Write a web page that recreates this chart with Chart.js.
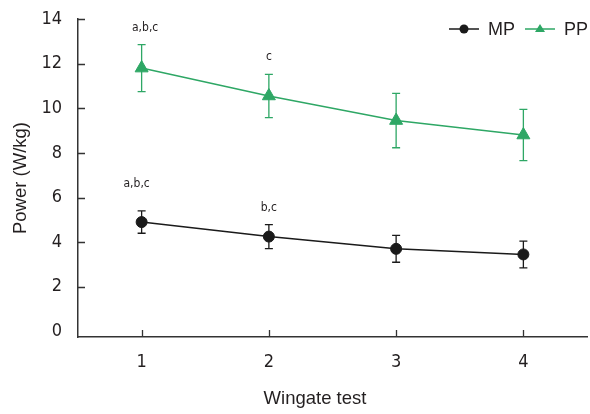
<!DOCTYPE html>
<html>
<head>
<meta charset="utf-8">
<title>Wingate test power</title>
<script src="https://cdn.jsdelivr.net/npm/chart.js@4.4.0/dist/chart.umd.min.js"></script>
<style>
    body { margin: 0; background: #fff; }
    #wrap { width: 590px; height: 414px; }
</style>
</head>
<body>
<div id="wrap"><canvas id="powerChart"></canvas></div>
<script>
// Wingate test bouts
const tests = ['1', '2', '3', '4'];

// Mean power (W/kg) and SD
const mpValues = [4.9, 4.25, 3.7, 3.45];
const mpErrors = [0.5, 0.54, 0.6, 0.6];

// Peak power (W/kg) and SD
const ppValues = [11.8, 10.55, 9.45, 8.8];
const ppErrors = [1.05, 0.97, 1.22, 1.15];

// Significance letters above each point
const mpMarks = ['a,b,c', 'b,c', '', ''];
const ppMarks = ['a,b,c', 'c', '', ''];

// Y axis tick values
const yTicks = [0, 2, 4, 6, 8, 10, 12, 14];

const GREEN = '#2ea765';
const BLACK = '#1a1a1a';
const AXIS = '#333333';
const TEXT = '#231f20';
const NARROW = "'Liberation Sans Narrow', 'DejaVu Sans Condensed', 'Roboto', sans-serif";
const REGULAR = "'Liberation Sans', Arial, sans-serif";

// Error bars, inner tick marks, letters, legend and x title
const decorations = {
    id: 'decorations',
    beforeDatasetsDraw(chart) {
        const ctx = chart.ctx;
        const y = chart.scales.y;
        chart.data.datasets.forEach((ds, i) => {
            const meta = chart.getDatasetMeta(i);
            ctx.save();
            ctx.strokeStyle = ds.borderColor;
            ctx.lineWidth = 1.3;
            meta.data.forEach((pt, j) => {
                const top = y.getPixelForValue(ds.data[j] + ds.errors[j]);
                const bottom = y.getPixelForValue(ds.data[j] - ds.errors[j]);
                ctx.beginPath();
                ctx.moveTo(pt.x, top);
                ctx.lineTo(pt.x, bottom);
                ctx.moveTo(pt.x - 4, top);
                ctx.lineTo(pt.x + 4, top);
                ctx.moveTo(pt.x - 4, bottom);
                ctx.lineTo(pt.x + 4, bottom);
                ctx.stroke();
            });
            ctx.restore();
        });
    },
    afterDraw(chart, args, opts) {
        const ctx = chart.ctx;
        const x = chart.scales.x;
        const y = chart.scales.y;
        const area = chart.chartArea;
        ctx.save();

        // tick marks pointing into the plot
        ctx.strokeStyle = AXIS;
        ctx.lineWidth = 1.3;
        ctx.beginPath();
        x.ticks.forEach((t, i) => {
            const px = Math.round(x.getPixelForTick(i)) + 0.5;
            ctx.moveTo(px, area.bottom);
            ctx.lineTo(px, area.bottom - 7);
        });
        yTicks.filter(v => v > 0).forEach(v => {
            const py = Math.round(y.getPixelForValue(v)) + 0.5;
            ctx.moveTo(area.left, py);
            ctx.lineTo(area.left + 7, py);
        });
        ctx.stroke();

        // significance letters
        ctx.fillStyle = TEXT;
        ctx.font = '12px ' + NARROW;
        ctx.textAlign = 'center';
        ctx.textBaseline = 'middle';
        chart.data.datasets.forEach((ds, i) => {
            const meta = chart.getDatasetMeta(i);
            meta.data.forEach((pt, j) => {
                if (!ds.marks[j]) return;
                const shift = (opts.shifts[i] && opts.shifts[i][j]) || [0, 0];
                const top = y.getPixelForValue(ds.data[j] + ds.errors[j]);
                ctx.fillText(ds.marks[j], pt.x + shift[0], top - 17 + shift[1]);
            });
        });

        // legend: line + marker + label, right aligned
        ctx.font = '18px ' + REGULAR;
        ctx.textAlign = 'left';
        let right = chart.width - 2;
        const ly = 29;
        chart.data.datasets.slice().reverse().forEach(ds => {
            const tw = ctx.measureText(ds.label).width;
            const textX = right - tw;
            const lineEnd = textX - 9;
            const lineStart = lineEnd - 30;
            const mx = (lineStart + lineEnd) / 2;
            ctx.strokeStyle = ds.borderColor;
            ctx.lineWidth = 1.5;
            ctx.beginPath();
            ctx.moveTo(lineStart, ly);
            ctx.lineTo(lineEnd, ly);
            ctx.stroke();
            ctx.fillStyle = ds.borderColor;
            ctx.beginPath();
            if (ds.pointStyle === 'triangle') {
                ctx.moveTo(mx, ly - 5);
                ctx.lineTo(mx + 5, ly + 3);
                ctx.lineTo(mx - 5, ly + 3);
                ctx.closePath();
            } else {
                ctx.arc(mx, ly, 4.5, 0, Math.PI * 2);
            }
            ctx.fill();
            ctx.fillStyle = TEXT;
            ctx.fillText(ds.label, textX, ly + 1);
            right = lineStart - 10;
        });

        // x axis title
        ctx.font = '18.5px ' + REGULAR;
        ctx.textAlign = 'center';
        ctx.fillStyle = TEXT;
        ctx.fillText(opts.xTitle, (chart.width + 40) / 2, 399);
        ctx.restore();
    }
};

const ctx = document.getElementById('powerChart').getContext('2d');

const powerChart = new Chart(ctx, {
    type: 'line',
    data: {
        labels: tests,
        datasets: [{
            label: 'MP',
            data: mpValues,
            errors: mpErrors,
            marks: mpMarks,
            borderColor: BLACK,
            backgroundColor: BLACK,
            borderWidth: 1.5,
            pointStyle: 'circle',
            pointRadius: 5.5,
            pointBorderWidth: 1,
            tension: 0
        }, {
            label: 'PP',
            data: ppValues,
            errors: ppErrors,
            marks: ppMarks,
            borderColor: GREEN,
            backgroundColor: GREEN,
            borderWidth: 1.5,
            pointStyle: 'triangle',
            pointRadius: 7.5,
            pointBorderWidth: 1,
            tension: 0
        }]
    },
    options: {
        responsive: true,
        maintainAspectRatio: false,
        animation: false,
        layout: {
            autoPadding: false,
            padding: { top: 19, right: 3, left: 0, bottom: 0 }
        },
        scales: {
            x: {
                type: 'category',
                offset: true,
                grid: { display: true, drawOnChartArea: false, drawTicks: false },
                border: { display: true, color: AXIS, width: 1.5 },
                ticks: {
                    color: TEXT,
                    padding: 15,
                    font: { size: 18, family: NARROW }
                },
                afterFit: scale => {
                    scale.height = 77;
                    scale.paddingLeft = 0;
                    scale.paddingRight = 0;
                }
            },
            y: {
                min: -0.25,
                max: 14,
                grid: { display: true, drawOnChartArea: false, drawTicks: false },
                border: { display: true, color: AXIS, width: 1.5 },
                ticks: {
                    color: TEXT,
                    padding: 16,
                    font: { size: 18, family: NARROW }
                },
                afterBuildTicks: scale => {
                    scale.ticks = yTicks.map(v => ({ value: v }));
                },
                title: {
                    display: true,
                    text: 'Power (W/kg)',
                    color: TEXT,
                    font: { size: 18.5, family: REGULAR },
                    padding: { top: 10, bottom: 0 }
                },
                afterFit: scale => {
                    scale.width = 78;
                    scale.paddingTop = 0;
                    scale.paddingBottom = 0;
                }
            }
        },
        plugins: {
            legend: { display: false },
            tooltip: { enabled: false },
            decorations: {
                xTitle: 'Wingate test',
                shifts: [[[-5, -10]], [[3.5, 0]]]
            }
        }
    },
    plugins: [decorations]
});
</script>
</body>
</html>
